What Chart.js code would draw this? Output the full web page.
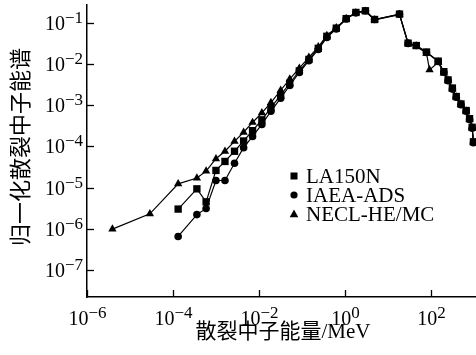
<!DOCTYPE html>
<html>
<head>
<meta charset="utf-8">
<script src="https://cdn.jsdelivr.net/npm/chart.js@4"></script>
<style>
html,body{margin:0;padding:0;background:#fff;}
#wrap{width:476px;height:355px;}
</style>
</head>
<body>
<div id="wrap"><canvas id="c" width="476" height="355"></canvas></div>
<script>
// ---- data ----
const seriesNames = ["LA150N", "IAEA-ADS", "NECL-HE/MC"];

const energyLA = [1.32e-4, 3.6e-4, 5.9e-4, 1.0e-3, 1.62e-3, 2.7e-3, 4.4e-3, 7.1e-3, 1.17e-2, 1.9e-2, 3.2e-2, 5.2e-2, 8.7e-2, 0.145, 0.24, 0.38, 0.63, 1.07, 1.8, 3.0, 4.9, 18.6, 29.5, 45.7, 79, 148, 200, 251, 316, 389, 501, 661, 794, 912, 977];
const fluxLA = [3.0e-6, 9.3e-6, 4.5e-6, 2.6e-5, 4.3e-5, 7.6e-5, 1.35e-4, 2.4e-4, 4.4e-4, 8.7e-4, 1.74e-3, 3.4e-3, 6.8e-3, 1.29e-2, 2.4e-2, 4.7e-2, 7.4e-2, 0.126, 0.178, 0.195, 0.12, 0.162, 3.2e-2, 2.8e-2, 1.95e-2, 1.17e-2, 6.5e-3, 4.1e-3, 2.6e-3, 1.62e-3, 1.07e-3, 7.4e-4, 4.7e-4, 2.9e-4, 1.29e-4];

const energyIAEA = [1.32e-4, 3.6e-4, 5.9e-4, 1.0e-3, 1.62e-3, 2.7e-3, 4.4e-3, 7.1e-3, 1.17e-2, 1.9e-2, 3.2e-2, 5.2e-2, 8.7e-2, 0.145, 0.24, 0.38, 0.63, 1.07, 1.8, 3.0, 4.9, 18.6, 29.5, 45.7, 79, 148, 200, 251, 316, 389, 501, 661, 794, 912, 977];
const fluxIAEA = [6.5e-7, 2.2e-6, 3.1e-6, 1.48e-5, 1.48e-5, 3.9e-5, 9.3e-5, 1.74e-4, 3.4e-4, 7.1e-4, 1.48e-3, 3.0e-3, 6.2e-3, 1.2e-2, 2.24e-2, 4.4e-2, 7.1e-2, 0.123, 0.174, 0.195, 0.12, 0.162, 3.16e-2, 2.8e-2, 1.9e-2, 1.15e-2, 6.3e-3, 3.9e-3, 2.45e-3, 1.55e-3, 1.02e-3, 7.1e-4, 4.5e-4, 2.75e-4, 1.23e-4];

const energyNECL = [3.9e-6, 2.9e-5, 1.32e-4, 3.6e-4, 5.9e-4, 1.0e-3, 1.62e-3, 2.7e-3, 4.4e-3, 7.1e-3, 1.17e-2, 1.9e-2, 3.2e-2, 5.2e-2, 8.7e-2, 0.145, 0.24, 0.38, 0.63, 1.07, 1.8, 3.0, 4.9, 18.6, 29.5, 45.7, 79, 93, 148, 200, 251, 316, 389, 501, 661, 794, 912, 977];
const fluxNECL = [9.8e-7, 2.3e-6, 1.23e-5, 1.7e-5, 2.5e-5, 5.0e-5, 7.6e-5, 1.32e-4, 2.2e-4, 3.8e-4, 6.5e-4, 1.15e-3, 2.3e-3, 4.3e-3, 7.9e-3, 1.45e-2, 2.6e-2, 4.9e-2, 7.6e-2, 0.126, 0.174, 0.19, 0.117, 0.158, 3.1e-2, 2.7e-2, 1.82e-2, 7.2e-3, 1.1e-2, 6.0e-3, 4.0e-3, 2.5e-3, 1.58e-3, 1.05e-3, 7.2e-4, 4.6e-4, 2.8e-4, 1.26e-4];

const xTickValues = [1e-6, 1e-4, 1e-2, 1, 100];
const xTickExps = ["−6", "−4", "−2", "0", "2"];
const yTickValues = [1e-1, 1e-2, 1e-3, 1e-4, 1e-5, 1e-6, 1e-7];
const yTickExps = ["−1", "−2", "−3", "−4", "−5", "−6", "−7"];

const xTitle = "散裂中子能量/MeV";
const yTitle = "归一化散裂中子能谱";

// ---- build ----
function pts(xs, ys) { return xs.map((x, i) => ({x: x, y: ys[i]})); }

const FONT = '"Liberation Serif", "Noto Sans CJK SC", serif';

const decor = {
  id: 'decor',
  afterDraw(chart) {
    const ctx = chart.ctx;
    const xs = chart.scales.x, ys = chart.scales.y;
    const area = chart.chartArea;
    ctx.save();
    ctx.strokeStyle = '#000';
    ctx.fillStyle = '#000';
    ctx.lineWidth = 1.3;
    // x ticks (inward) + labels
    xTickValues.forEach((v, i) => {
      const px = Math.round(xs.getPixelForValue(v)) + 0.5;
      ctx.beginPath();
      ctx.moveTo(px, area.bottom);
      ctx.lineTo(px, area.bottom - 7);
      ctx.stroke();
      ctx.font = '20px ' + FONT;
      const w10 = ctx.measureText('10').width;
      ctx.font = '17px ' + FONT;
      const we = ctx.measureText(xTickExps[i]).width;
      const left = px - (w10 + we) / 2;
      ctx.textAlign = 'left';
      ctx.textBaseline = 'alphabetic';
      ctx.font = '20px ' + FONT;
      ctx.fillText('10', left, 325);
      ctx.font = '17px ' + FONT;
      ctx.fillText(xTickExps[i], left + w10, 318);
    });
    // y ticks (inward) + labels
    yTickValues.forEach((v, i) => {
      const py = Math.round(ys.getPixelForValue(v)) + 0.5;
      ctx.beginPath();
      ctx.moveTo(area.left, py);
      ctx.lineTo(area.left + 7, py);
      ctx.stroke();
      ctx.font = '17px ' + FONT;
      const we = ctx.measureText(yTickExps[i]).width;
      ctx.font = '20px ' + FONT;
      const w10 = ctx.measureText('10').width;
      const right = 83;
      ctx.textAlign = 'left';
      ctx.textBaseline = 'alphabetic';
      ctx.fillText('10', right - we - w10, py + 6.5);
      ctx.font = '17px ' + FONT;
      ctx.fillText(yTickExps[i], right - we, py - 0.5);
    });
    // axis titles
    ctx.font = '21px ' + FONT;
    ctx.textAlign = 'center';
    ctx.textBaseline = 'middle';
    ctx.fillText(xTitle, 283, 332);
    ctx.save();
    ctx.translate(22, 147);
    ctx.rotate(-Math.PI / 2);
    ctx.font = '22px ' + FONT;
    ctx.fillText(yTitle, 0, 0);
    ctx.restore();
    // legend
    const lx = 294, ly = [176, 195, 214];
    ctx.fillRect(lx - 3.5, ly[0] - 3.5, 7, 7);
    ctx.beginPath(); ctx.arc(lx, ly[1], 3.6, 0, Math.PI * 2); ctx.fill();
    ctx.beginPath();
    ctx.moveTo(lx, ly[2] - 4.5);
    ctx.lineTo(lx + 4.3, ly[2] + 3.2);
    ctx.lineTo(lx - 4.3, ly[2] + 3.2);
    ctx.closePath(); ctx.fill();
    ctx.font = '21px ' + FONT;
    ctx.textAlign = 'left';
    ctx.textBaseline = 'middle';
    seriesNames.forEach((n, i) => ctx.fillText(n, 306, ly[i] + 1));
    ctx.restore();
  }
};

function ds(label, data, style, r) {
  return {
    label: label, data: data, showLine: true,
    borderColor: '#000', borderWidth: 1.2,
    pointStyle: style, pointRadius: r, pointHoverRadius: r,
    pointBackgroundColor: '#000', pointBorderColor: '#000', pointBorderWidth: 0,
    clip: false
  };
}

new Chart(document.getElementById('c'), {
  type: 'scatter',
  data: {
    datasets: [
      ds(seriesNames[0], pts(energyLA, fluxLA), 'rect', 5.2),
      ds(seriesNames[1], pts(energyIAEA, fluxIAEA), 'circle', 3.8),
      ds(seriesNames[2], pts(energyNECL, fluxNECL), 'triangle', 4.8)
    ]
  },
  options: {
    responsive: false,
    animation: false,
    devicePixelRatio: 1,
    layout: { autoPadding: false, padding: { left: 87, right: 0, top: 5, bottom: 58 } },
    plugins: { legend: { display: false }, tooltip: { enabled: false } },
    scales: {
      x: {
        type: 'logarithmic', min: 1e-6, max: 1120,
        grid: { display: false, drawTicks: false },
        border: { display: true, color: '#000', width: 1.5 },
        ticks: { display: false }
      },
      y: {
        type: 'logarithmic', min: 2.2e-8, max: 0.27,
        grid: { display: false, drawTicks: false },
        border: { display: true, color: '#000', width: 1.5 },
        ticks: { display: false }
      }
    }
  },
  plugins: [decor]
});
</script>
</body>
</html>
